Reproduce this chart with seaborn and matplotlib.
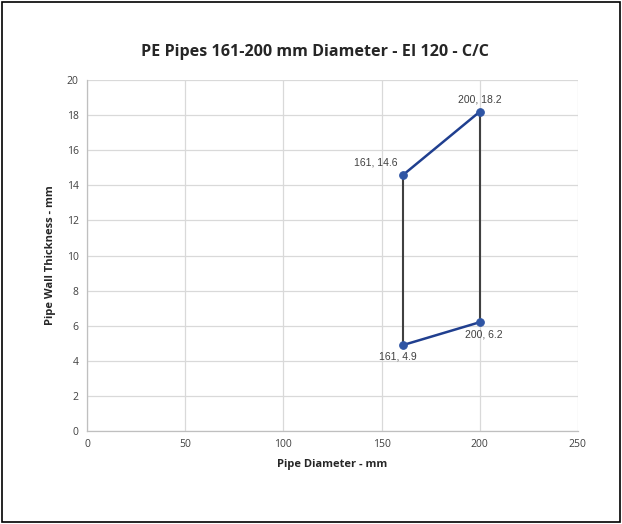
import numpy as np
import pandas as pd
import seaborn as sns
import matplotlib.pyplot as plt
from matplotlib.patches import Rectangle

# data
top_x = [161, 200]
top_y = [14.6, 18.2]
bottom_x = [161, 200]
bottom_y = [4.9, 6.2]
side_x = [161, 200]
x_ticks = [0, 50, 100, 150, 200, 250]
y_ticks = [0, 2, 4, 6, 8, 10, 12, 14, 16, 18, 20]

sns.set_theme(style="white")
plt.rcParams['font.family'] = ['Open Sans', 'DejaVu Sans']

fig = plt.figure(figsize=(6.22, 5.24), dpi=100)
ax = fig.add_axes([0.140, 0.1775, 0.789, 0.6695])

blue = "#203F8F"
dot = "#2F55A4"
grey_line = "#404040"

# black verticals joining lower and upper limits
for i in range(len(side_x)):
	side_df = pd.DataFrame({"d": [side_x[i], side_x[i]], "t": [bottom_y[i], top_y[i]]})
	sns.lineplot(x="d", y="t", data=side_df, ax=ax, color=grey_line, linewidth=1.5,
				 sort=False, estimator=None, errorbar=None)

top_df = pd.DataFrame({"d": top_x, "t": top_y})
bot_df = pd.DataFrame({"d": bottom_x, "t": bottom_y})
for df in [top_df, bot_df]:
	sns.lineplot(x="d", y="t", data=df, ax=ax, color=blue, linewidth=1.8,
				 marker="o", markersize=5.5, markerfacecolor=dot, markeredgecolor=dot,
				 sort=False, estimator=None, errorbar=None)

# data labels
lab_kw = dict(fontsize=7.5, color="#404040", family=['Liberation Sans', 'DejaVu Sans'])
ax.annotate(f"{top_x[0]}, {top_y[0]}", (top_x[0], top_y[0]), xytext=(-4, 5),
			textcoords="offset points", ha="right", va="bottom", **lab_kw)
ax.annotate(f"{top_x[1]}, {top_y[1]}", (top_x[1], top_y[1]), xytext=(0, 5),
			textcoords="offset points", ha="center", va="bottom", **lab_kw)
ax.annotate(f"{bottom_x[1]}, {bottom_y[1]}", (bottom_x[1], bottom_y[1]), xytext=(3, -5),
			textcoords="offset points", ha="center", va="top", **lab_kw)
ax.annotate(f"{bottom_x[0]}, {bottom_y[0]}", (bottom_x[0], bottom_y[0]), xytext=(-4, -5),
			textcoords="offset points", ha="center", va="top", **lab_kw)

ax.set_xlim(0, 250)
ax.set_ylim(0, 20)
ax.set_xticks(x_ticks)
ax.set_yticks(y_ticks)
ax.grid(True, color="#D9D9D9", linewidth=0.9)
ax.set_axisbelow(True)
ax.tick_params(axis="both", labelsize=7.5, labelcolor="#404040", length=0, pad=6)
for s in ["top", "right"]:
	ax.spines[s].set_visible(False)
for s in ["left", "bottom"]:
	ax.spines[s].set_color("#BFBFBF")
	ax.spines[s].set_linewidth(0.9)

ax.set_xlabel("Pipe Diameter - mm", fontsize=8, fontweight="bold", color="#262626", labelpad=6)
ax.set_ylabel("Pipe Wall Thickness - mm", fontsize=8, fontweight="bold", color="#262626", labelpad=8)
fig.text(0.507, 0.9, "PE Pipes 161-200 mm Diameter - EI 120 - C/C", ha="center", va="center",
		 fontsize=11.6, fontweight="bold", color="#262626")

# frame around the whole chart
fig.patches.append(Rectangle((0.004, 0.004), 0.992, 0.992, transform=fig.transFigure,
							 fill=False, edgecolor="black", linewidth=1.2))

fig.savefig("out.png", dpi=100)
